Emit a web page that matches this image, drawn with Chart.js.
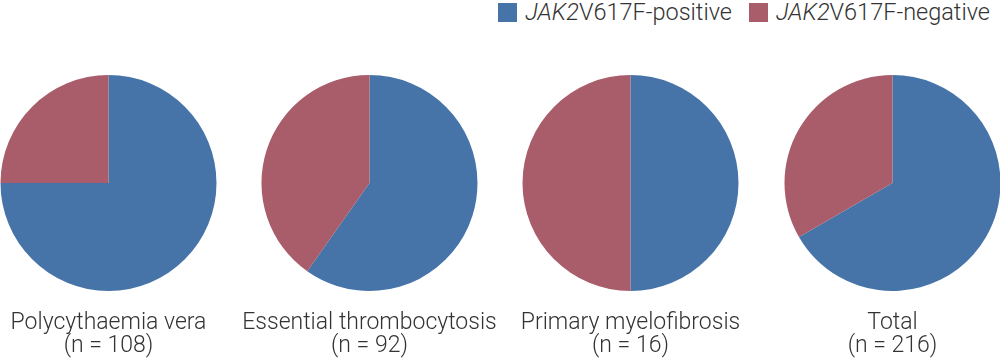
<!DOCTYPE html>
<html>
<head>
<meta charset="utf-8">
<script src="https://cdn.jsdelivr.net/npm/chart.js@4/dist/chart.umd.min.js"></script>
<style>
    body { margin: 0; background: #fff; }
    #wrap { position: relative; width: 1000px; height: 361px; overflow: hidden; font-family: Roboto, sans-serif; font-weight: 300; color: #333; }
    #legend { position: absolute; top: 1px; right: 10px; display: flex; font-size: 23.5px; line-height: 22px; }
    #legend .item { display: flex; align-items: center; margin-left: 17px; }
    #legend .box { width: 19px; height: 19px; margin-right: 8px; }
    canvas { position: absolute; top: 75px; }
</style>
</head>
<body>
<div id="wrap">
    <div id="legend"></div>
    <canvas id="pie_0" width="271" height="286"></canvas>
    <canvas id="pie_1" width="271" height="286"></canvas>
    <canvas id="pie_2" width="271" height="286"></canvas>
    <canvas id="pie_3" width="271" height="286"></canvas>
</div>
<script>
const categories = ['Polycythaemia vera', 'Essential thrombocytosis', 'Primary myelofibrosis', 'Total'];
const totals = [108, 92, 16, 216];
const positive = [81, 55, 8, 144];
const negative = [27, 37, 8, 72];

const gene = 'JAK2';
const series_labels = ['JAK2V617F-positive', 'JAK2V617F-negative'];
const colors = ['#4674a8', '#a95c6a'];

// pie centres in the picture
const centres = [108, 369, 630, 892];

var charts = [];

function make_pie(i) {
    const canvas = document.getElementById('pie_' + i);
    canvas.style.left = (centres[i] - 135.5) + 'px';
    return new Chart(canvas.getContext('2d'), {
        type: 'pie',
        data: {
            labels: series_labels,
            datasets: [{
                data: [positive[i], negative[i]],
                backgroundColor: colors,
                borderWidth: 0
            }]
        },
        options: {
            responsive: false,
            animation: false,
            layout: { padding: 0 },
            plugins: {
                legend: { display: false },
                tooltip: { enabled: false },
                title: {
                    display: true,
                    position: 'bottom',
                    text: [categories[i], '(n = ' + totals[i] + ')'],
                    color: '#333',
                    font: { family: 'Roboto', weight: '300', size: 23, lineHeight: 1.0 },
                    padding: { top: 21, bottom: 3 }
                }
            }
        }
    });
};

function html_legend(chart) {
    const legend = document.getElementById('legend');
    const items = chart.options.plugins.legend.labels.generateLabels(chart);
    items.forEach((item) => {
        const div = document.createElement('div');
        div.className = 'item';
        const box = document.createElement('span');
        box.className = 'box';
        box.style.background = item.fillStyle;
        const txt = document.createElement('span');
        const rest = item.text.slice(gene.length);
        txt.innerHTML = '<i>' + gene + '</i>' + rest;
        div.appendChild(box);
        div.appendChild(txt);
        legend.appendChild(div);
    });
};

for (let i = 0; i < categories.length; i++) {
    charts.push(make_pie(i));
}
html_legend(charts[3]);
</script>
</body>
</html>
